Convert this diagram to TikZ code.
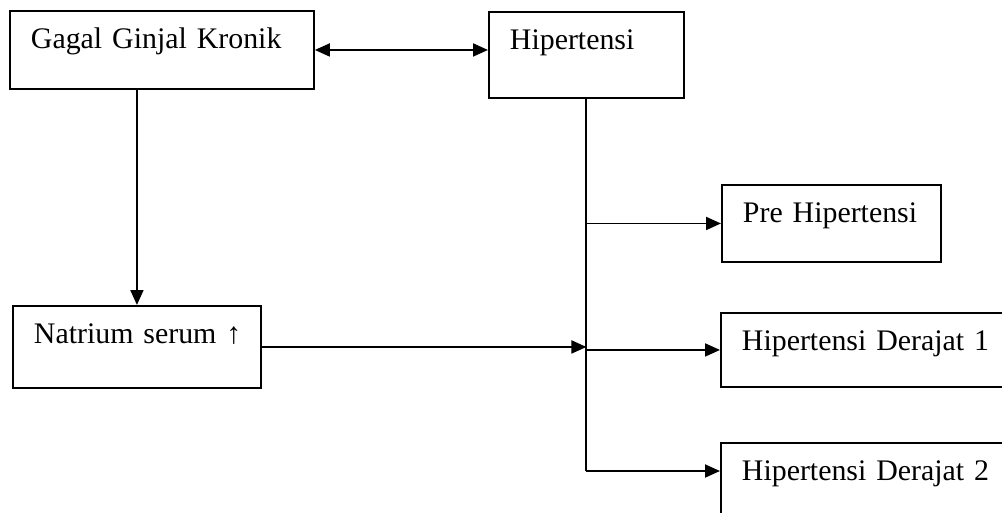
\documentclass[tikz,border=0pt]{standalone}
\usepackage{fontspec}
\setmainfont{Liberation Serif}
\usepackage{tikz}
\usetikzlibrary{arrows.meta}

\begin{document}
\begin{tikzpicture}[x=0.02cm, y=-0.02cm,
    kotak/.style={draw, line width=1.1pt, anchor=north west, align=left, inner xsep=0.42cm, inner ysep=0pt, text height=0.76cm, font=\fontsize{17}{20}\selectfont},
    panah/.style={line width=1.1pt, -{Triangle[length=0.3cm, width=0.26cm]}},
    garis/.style={line width=1.1pt},]
            \clip (0,0) rectangle (1002,512);
            %Nodes
            \node[kotak, text width=5.24cm, text depth=0.80cm](ggk) at (9,10){Gagal Ginjal Kronik};
            \node[kotak, text width=3.06cm, text depth=0.96cm](hip) at (488,11){Hipertensi};
            \node[kotak, text width=4.12cm, text depth=0.88cm](natrium) at (12,305){\mbox{Natrium serum ↑}};
            \node[kotak, text width=3.54cm, text depth=0.78cm](pre) at (721,184){Pre Hipertensi};
            \node[kotak, text width=5.00cm, text depth=0.72cm](derajat_1) at (720,312){Hipertensi Derajat 1};
            \node[kotak, text width=5.00cm, text depth=0.72cm](derajat_2) at (720,442){Hipertensi Derajat 2};
            \coordinate (bawah) at (0,471);

            %Lines
            \draw[panah, {Triangle[length=0.3cm, width=0.26cm]}-{Triangle[length=0.3cm, width=0.26cm]}](ggk.east)--(ggk.east -| hip.west);
            \draw[panah](natrium.north |- ggk.south)--(natrium.north);
            \draw[garis](hip.south)--(hip.south |- bawah);
            \draw[panah](natrium.east)--(natrium.east -| hip.south);
            \draw[panah](pre.west -| hip.south)--(pre.west);
            \draw[panah](derajat_1.west -| hip.south)--(derajat_1.west);
            \draw[panah](hip.south |- bawah)--(derajat_2.west |- bawah);


        \end{tikzpicture}
\end{document}
